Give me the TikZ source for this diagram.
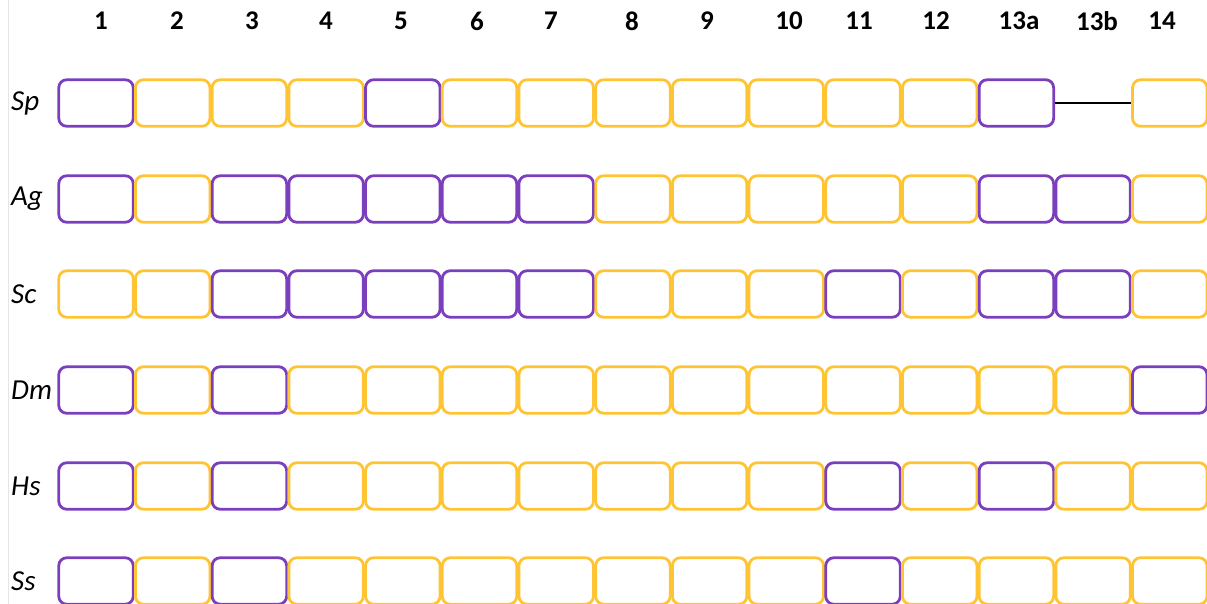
\documentclass[tikz,border=0pt]{standalone}
\usepackage{fontspec}
\setmainfont{Carlito}
\definecolor{P}{RGB}{123,63,190}
\definecolor{Y}{RGB}{255,196,51}
\begin{document}
\begin{tikzpicture}[x=1pt,y=-1pt,
  cell/.style={draw=#1, rounded corners=8pt, line width=2.8pt, minimum width=74.5pt, minimum height=46.5pt, inner sep=0pt},
  collab/.style={font=\bfseries\fontsize{27}{27}\selectfont, inner sep=0pt},
  rowlab/.style={font=\itshape\fontsize{29}{29}\selectfont, anchor=west, inner sep=0pt},
  joinline/.style={line width=1.6pt, black}]
\useasboundingbox (0,0) rectangle (1207,604);
\draw[black!10, line width=0.8pt] (8,0) -- (8,604);
% column labels
\foreach \t/\x [count=\k] in {1/101,2/177,3/252,4/326,5/401,6/477,7/551,8/632,9/707,10/789,11/859,12/936,13a/1019,13b/1097,14/1162}
  \node[collab] (col-\k) at (\x,21) {\t};
\def\N{N}
\foreach \r/\y/\cols in {
  Sp/103/{P,Y,Y,Y,P,Y,Y,Y,Y,Y,Y,Y,P,N,Y},
  Ag/199/{P,Y,P,P,P,P,P,Y,Y,Y,Y,Y,P,P,Y},
  Sc/294/{Y,Y,P,P,P,P,P,Y,Y,Y,P,Y,P,P,Y},
  Dm/390/{P,Y,P,Y,Y,Y,Y,Y,Y,Y,Y,Y,Y,Y,P},
  Hs/486/{P,Y,P,Y,Y,Y,Y,Y,Y,Y,P,Y,P,Y,Y},
  Ss/581/{P,Y,P,Y,Y,Y,Y,Y,Y,Y,P,Y,Y,Y,Y}}{
  \node[rowlab] (lab-\r) at (11,\y) {\r};
  \foreach \c [count=\i] in \cols {
    \edef\cc{\c}
    \ifx\cc\N\else
      \node[cell=\c] (\r-\i) at ({96+(\i-1)*76.7},\y) {};
    \fi
  }
}
\draw[joinline] (Sp-13.east) -- (Sp-15.west);
\end{tikzpicture}
\end{document}
